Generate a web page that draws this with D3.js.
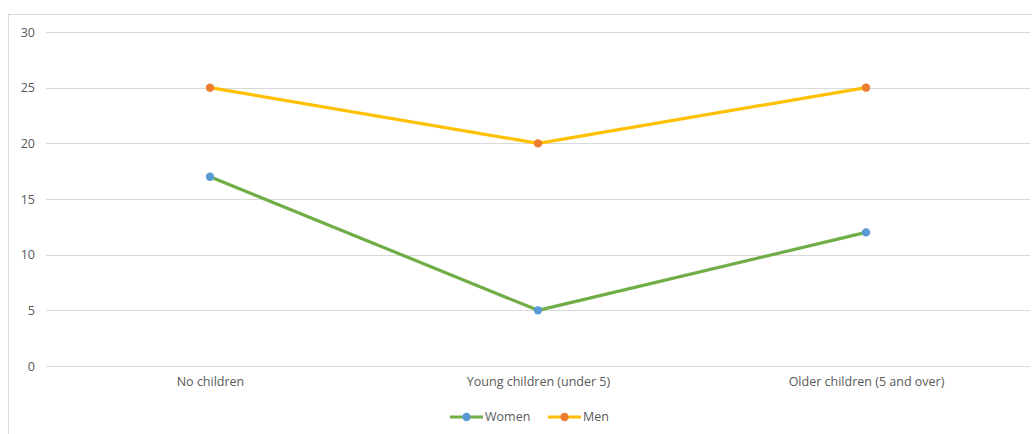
<!DOCTYPE html>
<html>
<head>
<meta charset="utf-8">
<script src="https://cdn.jsdelivr.net/npm/d3@7"></script>
<style>
  html, body { margin: 0; padding: 0; background: #fff; }
  svg { display: block; }
  text { font-family: "Open Sans", "Noto Sans", sans-serif; fill: #595959; }
</style>
</head>
<body>
<svg id="chart" width="1032" height="434"></svg>
<script>
// Categories and series
const categories = ["No children", "Young children (under 5)", "Older children (5 and over)"];
const women = [17, 5, 12];
const men = [25, 20, 25];
const yTicks = [0, 5, 10, 15, 20, 25, 30];

const series = [
  { name: "Women", values: women, line: "#70AD47", marker: "#5B9BD5" },
  { name: "Men", values: men, line: "#FFC000", marker: "#ED7D31" }
];

const FS = 12.5;
const svg = d3.select("#chart");

// Chart frame
svg.append("rect")
  .attr("x", 8.5).attr("y", 14.5)
  .attr("width", 1040).attr("height", 440)
  .attr("fill", "none").attr("stroke", "#d9d9d9").attr("stroke-width", 1);

const x = d3.scalePoint().domain(categories).range([46, 1030]).padding(0.5);
const y = d3.scaleLinear().domain([0, 30]).range([366, 32]);

// Gridlines
svg.append("g").selectAll("line").data(yTicks).join("line")
  .attr("x1", 46).attr("x2", 1030)
  .attr("y1", d => Math.round(y(d)) + 0.5).attr("y2", d => Math.round(y(d)) + 0.5)
  .attr("stroke", "#d9d9d9").attr("stroke-width", 1);

// Y axis labels
const yAxis = d3.axisLeft(y).tickValues(yTicks).tickSize(0).tickPadding(0);
const gy = svg.append("g").attr("transform", "translate(35,0)").call(yAxis);
gy.select(".domain").remove();
gy.selectAll("text").attr("font-size", FS).style("font-family", "'Open Sans', sans-serif").attr("fill", "#595959");

// X axis labels
const xAxis = d3.axisBottom(x).tickSize(0).tickPadding(0);
const gx = svg.append("g").attr("transform", "translate(0,377)").call(xAxis);
gx.select(".domain").remove();
gx.selectAll("text").attr("font-size", FS).style("font-family", "'Open Sans', sans-serif").attr("fill", "#595959");

// Lines and markers
const line = d3.line().x((d, i) => x(categories[i])).y(d => y(d));
series.forEach(s => {
  svg.append("path").datum(s.values)
    .attr("d", line)
    .attr("fill", "none")
    .attr("stroke", s.line)
    .attr("stroke-width", 3.2)
    .attr("stroke-linejoin", "round")
    .attr("stroke-linecap", "round");
  svg.append("g").selectAll("circle").data(s.values).join("circle")
    .attr("cx", (d, i) => x(categories[i]))
    .attr("cy", d => y(d))
    .attr("r", 4.2)
    .attr("fill", s.marker);
});

// Legend
const legendItems = [
  { s: series[0], x0: 450 },
  { s: series[1], x0: 548 }
];
const ly = 417;
legendItems.forEach(({ s, x0 }) => {
  const g = svg.append("g");
  g.append("line").attr("x1", x0).attr("x2", x0 + 33).attr("y1", ly).attr("y2", ly)
    .attr("stroke", s.line).attr("stroke-width", 3.2);
  g.append("circle").attr("cx", x0 + 16.5).attr("cy", ly).attr("r", 4.2).attr("fill", s.marker);
  g.append("text").attr("x", x0 + 35).attr("y", ly).attr("dy", "0.35em")
    .attr("font-size", FS).text(s.name);
});
</script>
</body>
</html>
